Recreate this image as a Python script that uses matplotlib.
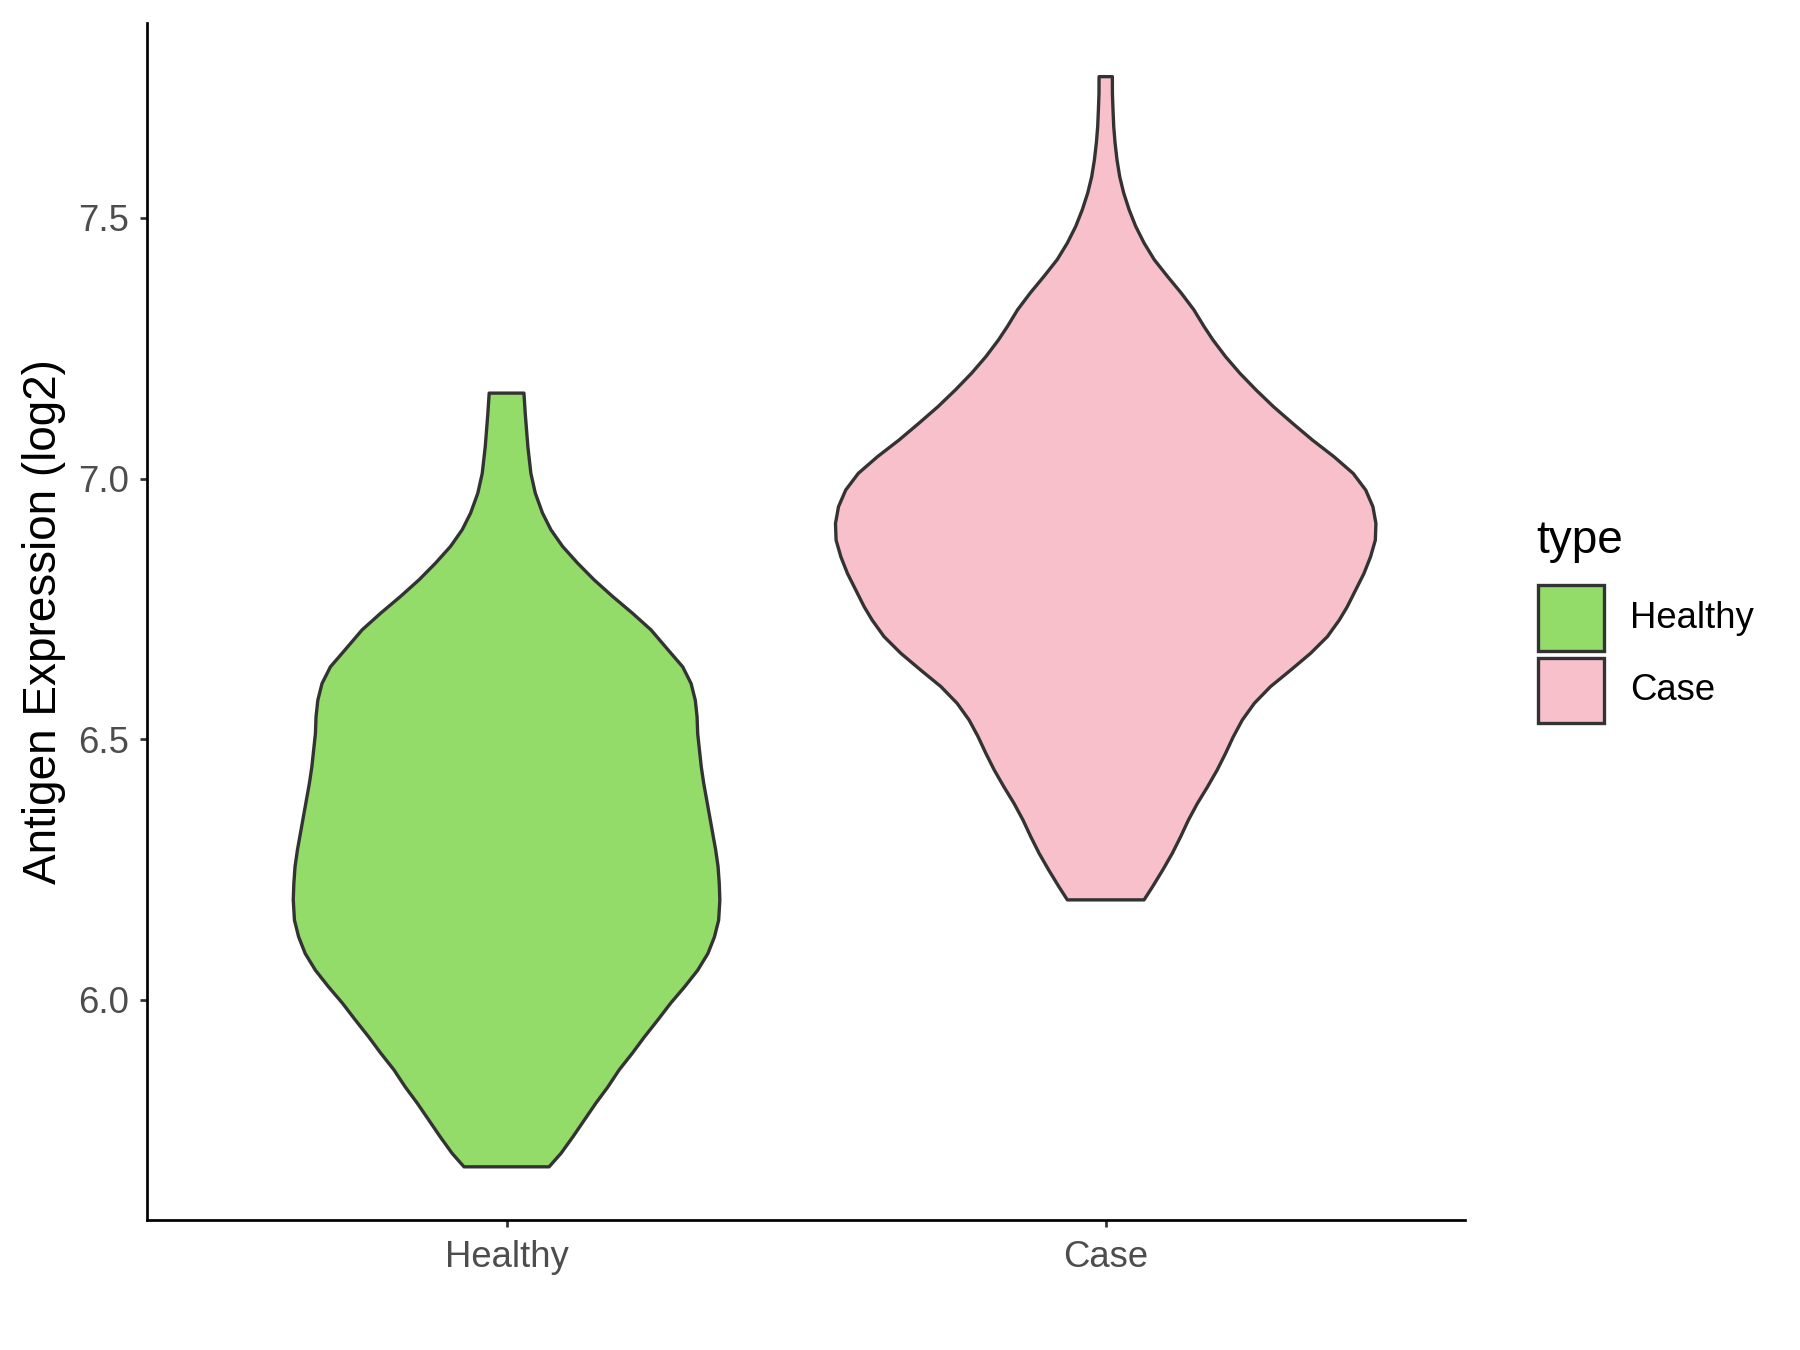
import matplotlib
matplotlib.use('Agg')
import matplotlib.pyplot as plt
from matplotlib.patches import Rectangle
import numpy as np

# categories and colours
groups = ['Healthy', 'Case']
colors = ['#93DC6A', '#F8C0CB']

# violin outlines: y level and half width (x units)
healthy_y = [5.680, 5.706, 5.738, 5.770, 5.802, 5.833, 5.866, 5.898, 5.929, 5.961,
             5.994, 6.025, 6.057, 6.089, 6.121, 6.153, 6.192, 6.224, 6.256, 6.288,
             6.320, 6.352, 6.384, 6.416, 6.447, 6.479, 6.511, 6.543, 6.575, 6.607,
             6.639, 6.671, 6.710, 6.742, 6.774, 6.806, 6.838, 6.870, 6.902, 6.934,
             6.972, 7.010, 7.061, 7.125, 7.164]
healthy_w = [0.071, 0.091, 0.111, 0.130, 0.149, 0.169, 0.188, 0.210, 0.230, 0.252,
             0.274, 0.297, 0.319, 0.336, 0.347, 0.354, 0.356, 0.355, 0.353, 0.349,
             0.344, 0.339, 0.334, 0.329, 0.325, 0.322, 0.319, 0.318, 0.315, 0.308,
             0.294, 0.270, 0.241, 0.210, 0.177, 0.146, 0.1185, 0.0935, 0.074, 0.060,
             0.048, 0.0406, 0.0356, 0.0312, 0.0290]

case_y = [6.192, 6.217, 6.249, 6.281, 6.313, 6.345, 6.377, 6.409, 6.441, 6.473,
          6.505, 6.537, 6.569, 6.601, 6.633, 6.665, 6.697, 6.729, 6.754, 6.786,
          6.818, 6.850, 6.882, 6.914, 6.946, 6.978, 7.010, 7.042, 7.074, 7.106,
          7.138, 7.170, 7.202, 7.234, 7.266, 7.292, 7.324, 7.356, 7.388, 7.420,
          7.452, 7.484, 7.516, 7.548, 7.579, 7.611, 7.644, 7.675, 7.707, 7.739,
          7.771]
case_w = [0.064, 0.078, 0.095, 0.111, 0.125, 0.138, 0.153, 0.170, 0.186, 0.200,
          0.213, 0.228, 0.248, 0.275, 0.309, 0.342, 0.370, 0.390, 0.403, 0.417,
          0.431, 0.442, 0.450, 0.451, 0.446, 0.434, 0.413, 0.381, 0.345, 0.312,
          0.280, 0.251, 0.224, 0.200, 0.179, 0.164, 0.147, 0.126, 0.103, 0.081,
          0.064, 0.050, 0.039, 0.030, 0.0234, 0.0189, 0.0156, 0.0134, 0.0122, 0.0112,
          0.0111]

yticks = [6.0, 6.5, 7.0, 7.5]

plt.rcParams['font.family'] = ['Liberation Sans', 'DejaVu Sans']

fig = plt.figure(figsize=(12, 9), dpi=150)
ax = fig.add_axes([0.0817, 0.0963, 0.7323, 0.8867])

outline = '#333333'
for i, (ys, ws) in enumerate([(healthy_y, healthy_w), (case_y, case_w)]):
    pos = i + 1
    ys = np.array(ys)
    ws = np.array(ws)
    px = np.concatenate([pos - ws, (pos + ws)[::-1]])
    py = np.concatenate([ys, ys[::-1]])
    ax.fill(px, py, facecolor=colors[i], edgecolor=outline, linewidth=1.6,
            joinstyle='round', zorder=2)

ax.set_xlim(0.4, 2.6)
ax.set_ylim(5.578, 7.874)
ax.set_xticks([1, 2])
ax.set_xticklabels(groups)
ax.set_yticks(yticks)
ax.set_yticklabels(['%.1f' % t for t in yticks])

for s in ['top', 'right']:
    ax.spines[s].set_visible(False)
for s in ['left', 'bottom']:
    ax.spines[s].set_linewidth(1.3)
    ax.spines[s].set_color('black')

ax.tick_params(axis='both', length=3.5, width=1.3, color='#333333',
               labelsize=17.5, labelcolor='#4D4D4D', pad=5)
ax.tick_params(axis='x', pad=6)
ax.set_ylabel('Antigen Expression (log2)', fontsize=22, color='black', labelpad=6)

# legend, drawn by hand in figure coordinates
fig.text(0.8533, 0.5993, 'type', fontsize=22, va='center', ha='left')
key_bottoms = [0.5178, 0.4643]
for c, lab, yb in zip(colors, groups, key_bottoms):
    fig.add_artist(Rectangle((0.8546, yb), 0.0364, 0.0485, transform=fig.transFigure,
                             facecolor=c, edgecolor=outline, linewidth=1.6))
    fig.text(0.9056, yb + 0.0485 / 2, lab, fontsize=17.5, va='center', ha='left')

fig.savefig('out.png', dpi=150)
